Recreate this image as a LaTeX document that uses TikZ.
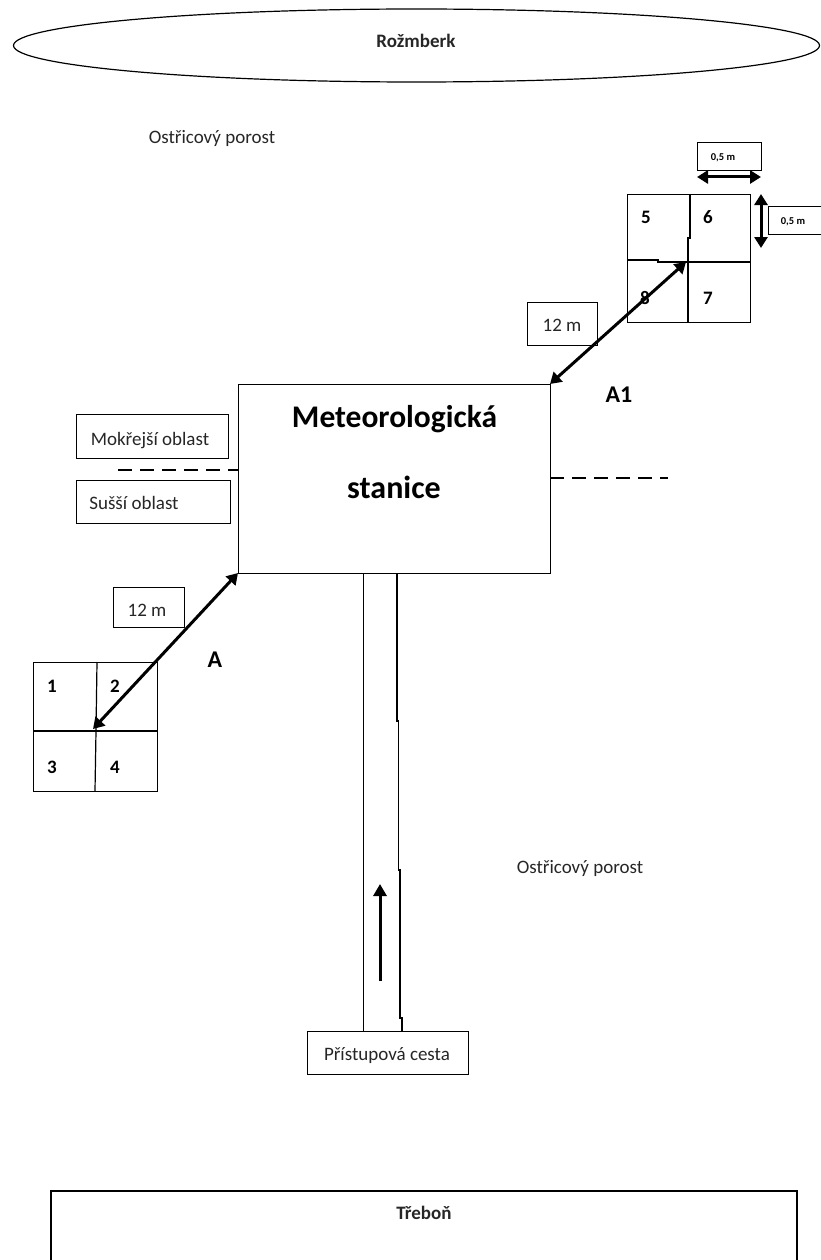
\documentclass[tikz,border=0pt]{standalone}
\usepackage{fontspec}
\setmainfont{Carlito}
\usetikzlibrary{arrows.meta,shapes.geometric}
\tikzset{
  box/.style={draw=black,line width=1.2pt,inner sep=0pt,anchor=north west},
  lab/.style={inner sep=0pt,text=black!85,font=\fontsize{19}{23}\selectfont},
  num/.style={inner sep=0pt,font=\fontsize{19}{23}\selectfont\bfseries},
  tiny/.style={inner sep=0pt,font=\fontsize{10.5}{12}\selectfont\bfseries},
  line/.style={draw=black,line width=1.2pt},
  dbl/.style={line width=3pt,{Triangle[length=11pt,width=13pt]}-{Triangle[length=11pt,width=13pt]}},
}
\begin{document}
\begin{tikzpicture}[x=1pt,y=-1pt]
\useasboundingbox (0,0) rectangle (820,1260);
% lake
\node[ellipse,draw,line width=1.2pt,minimum width=806pt,minimum height=73pt,inner sep=0pt] (lake) at (416.5,45.5) {};
\node[lab,font=\fontsize{19}{23}\selectfont\bfseries] (lakeT) at (416,41) {Rožmberk};
\node[lab] (porost1) at (212,138) {Ostřicový porost};
\node[lab] (porost2) at (580,868) {Ostřicový porost};
% station
\node[box,minimum width=312pt,minimum height=189pt] (st) at (238,384) {};
\node[inner sep=0pt,font=\fontsize{31.5}{38}\selectfont\bfseries] (st1) at (394.5,419) {Meteorologická};
\node[inner sep=0pt,font=\fontsize{32}{38}\selectfont\bfseries] (st2) at (394,487) {stanice};
% area labels
\node[box,minimum width=152pt,minimum height=44pt] (wet) at (76,414) {};
\node[lab] (wetT) at (150,441) {Mokřejší oblast};
\node[box,minimum width=154pt,minimum height=43pt] (dry) at (76,480) {};
\node[lab] (dryT) at (134,503) {Sušší oblast};
\coordinate (dL) at (118,470);
\coordinate (dLe) at (238,470);
\coordinate (dR) at (550,478);
\coordinate (dRe) at (668,478);
\draw[line,dash pattern=on 14pt off 8pt] (dL) -- (dLe);
\draw[line,dash pattern=on 14pt off 8pt] (dR) -- (dRe);
% grid A
\node[box,minimum width=124pt,minimum height=129pt] (ga) at (33,662) {};
\coordinate (gaT) at (97,662);
\coordinate (gaM) at (96,731);
\coordinate (gaB) at (95,791);
\coordinate (gaL) at (33,731);
\coordinate (gaR) at (157,731);
\draw[line] (gaT) -- (gaM) -- (gaB);
\draw[line] (gaL) -- (gaR);
\node[num] at (52,686) {1};
\node[num] at (115,686) {2};
\node[num] at (52,767) {3};
\node[num] at (115,767) {4};
\node[box,minimum width=71pt,minimum height=40pt] (d1) at (113,587) {};
\node[lab] at (147,610) {12 m};
\coordinate (aS) at (238,573);
\coordinate (aE) at (93,729);
\draw[dbl] (aS) -- (aE);
\node[inner sep=0pt,font=\fontsize{24}{28}\selectfont\bfseries] at (215,660) {A};
% grid A1
\node[box,minimum width=123pt,minimum height=128pt] (gb) at (627,194) {};
\coordinate (t1) at (690,194);
\coordinate (t2) at (690,238);
\coordinate (t3) at (688,238);
\coordinate (t4) at (688,322);
\draw[line] (t1) -- (t2) -- (t3) -- (t4);
\coordinate (h1) at (627,260);
\coordinate (h2) at (658,260);
\coordinate (h3) at (658,262);
\coordinate (h4) at (750,262);
\draw[line] (h1) -- (h2) -- (h3) -- (h4);
\node[num] at (646,217) {5};
\node[num] at (708,217) {6};
\node[num] at (645,298) {8};
\node[num] at (708,298) {7};
\node[box,minimum width=70pt,minimum height=43pt] (d2) at (527,302) {};
\node[lab] at (562,325) {12 m};
\coordinate (bS) at (550,384);
\coordinate (bE) at (686,262);
\draw[dbl] (bS) -- (bE);
\node[inner sep=0pt,font=\fontsize{24}{28}\selectfont\bfseries] at (619,395) {A1};
% dimensions
\node[box,minimum width=64pt,minimum height=28pt] (w) at (697,142) {};
\node[tiny] at (723,158) {0,5 m};
\coordinate (wL) at (697,177);
\coordinate (wR) at (761,177);
\draw[dbl] (wL) -- (wR);
\node[box,minimum width=70pt,minimum height=28pt] (h) at (768,206) {};
\node[tiny] at (793,222) {0,5 m};
\coordinate (hT) at (761,194);
\coordinate (hB) at (761,248);
\draw[dbl] (hT) -- (hB);
% road
\node[box,minimum width=161pt,minimum height=43pt] (acc) at (307,1031) {};
\node[lab] at (387,1056) {Přístupová cesta};
\coordinate (r1) at (363.5,573);
\coordinate (r2) at (363.5,1031);
\draw[line] (r1) -- (r2);
\coordinate (s0) at (397,573);
\coordinate (s1) at (397,721);
\coordinate (s2) at (398.5,721);
\coordinate (s3) at (398.5,870);
\coordinate (s4) at (400,870);
\coordinate (s5) at (400,1018);
\coordinate (s6) at (402,1018);
\coordinate (s7) at (402,1031);
\draw[line] (s0) -- (s1) -- (s2) -- (s3) -- (s4) -- (s5) -- (s6) -- (s7);
\coordinate (up1) at (380,981);
\coordinate (up2) at (380,884);
\draw[line width=3pt,-{Triangle[length=12pt,width=13pt]}] (up1) -- (up2);
% Trebon
\coordinate (trA) at (51,1262);
\coordinate (trB) at (51,1191);
\coordinate (trC) at (797,1191);
\coordinate (trD) at (797,1262);
\draw[line,line width=1.6pt] (trA) -- (trB) -- (trC) -- (trD);
\node[lab,font=\fontsize{19}{23}\selectfont\bfseries] at (424,1213) {Třeboň};
\end{tikzpicture}
\end{document}
